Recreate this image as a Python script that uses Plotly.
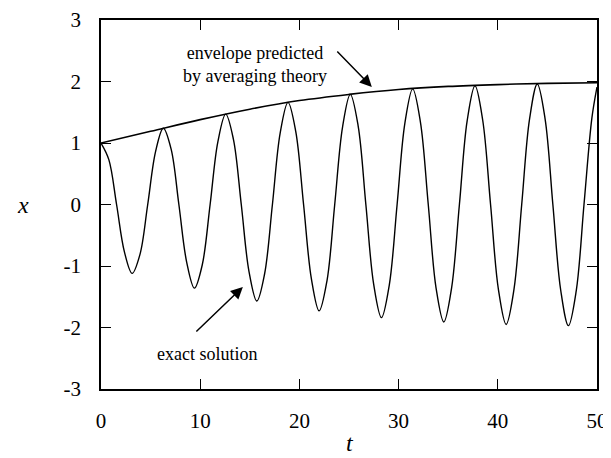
import plotly.graph_objects as go

# exact solution samples (t, x)
t_exact = [0.00, 0.79, 1.57, 2.36, 3.14, 3.93, 4.71, 5.50, 6.28, 7.07,
           7.85, 8.64, 9.42, 10.21, 11.00, 11.78, 12.57, 13.35, 14.14, 14.92,
           15.71, 16.49, 17.28, 18.06, 18.85, 19.63, 20.42, 21.21, 21.99, 22.78,
           23.56, 24.35, 25.13, 25.92, 26.70, 27.49, 28.27, 29.06, 29.85, 30.63,
           31.42, 32.20, 32.99, 33.77, 34.56, 35.34, 36.13, 36.91, 37.70, 38.48,
           39.27, 40.06, 40.84, 41.63, 42.41, 43.20, 43.98, 44.77, 45.55, 46.34,
           47.12, 47.91, 48.69, 49.48, 50.00]
x_exact = [1.00, 0.73, 0.00, -0.77, -1.12, -0.81, 0.00, 0.86, 1.24, 0.90,
           0.00, -0.94, -1.36, -0.98, 0.00, 1.02, 1.47, 1.06, 0.00, -1.09,
           -1.57, -1.13, 0.00, 1.16, 1.66, 1.19, 0.00, -1.21, -1.73, -1.24,
           0.00, 1.26, 1.79, 1.28, 0.00, -1.30, -1.84, -1.31, 0.00, 1.32,
           1.88, 1.34, 0.00, -1.35, -1.91, -1.36, 0.00, 1.36, 1.93, 1.37,
           0.00, -1.38, -1.95, -1.38, 0.00, 1.39, 1.96, 1.39, 0.00, -1.39,
           -1.97, -1.40, 0.00, 1.40, 1.91]

# envelope predicted by averaging theory
t_env = [0, 5, 10, 15, 20, 25, 30, 35, 40, 45, 50]
r_env = [1.00, 1.19, 1.38, 1.55, 1.69, 1.79, 1.87, 1.92, 1.95, 1.97, 1.98]

x_ticks = [0, 10, 20, 30, 40, 50]
y_ticks = [-3, -2, -1, 0, 1, 2, 3]
y_tick_text = ["-3", "-2", "-1", "0", "1", "2", "3"]

FONT = "Liberation Serif"
# page body has an 8px default margin; figure sized to fit the 611x458 window
W, H = 603, 450
ML, MR, MT, MB = 93, 14, 12, 69
PW, PH = W - ML - MR, H - MT - MB

fig = go.Figure()
fig.add_trace(go.Scatter(x=t_exact, y=x_exact, mode="lines",
                         line=dict(color="black", width=1.4, shape="spline", smoothing=1.0),
                         showlegend=False, hoverinfo="skip"))
fig.add_trace(go.Scatter(x=t_env, y=r_env, mode="lines",
                         line=dict(color="black", width=1.6, shape="spline"),
                         showlegend=False, hoverinfo="skip"))

axis_common = dict(showline=True, linecolor="black", linewidth=1.5, mirror="ticks",
                   ticks="inside", ticklen=10, tickwidth=1.2, tickcolor="black",
                   showgrid=False, zeroline=False, automargin=False,
                   tickfont=dict(family=FONT, size=21, color="black"))

fig.update_xaxes(range=[0, 50], tickvals=x_ticks, ticklabelstandoff=12, **axis_common)
fig.update_yaxes(range=[-3, 3], tickvals=y_ticks, ticktext=y_tick_text,
                 ticklabelstandoff=14, **axis_common)

ann_font = dict(family=FONT, size=18, color="black")
fig.add_annotation(x=15.5, y=2.28, xref="x", yref="y",
                   text="envelope predicted<br>by averaging theory",
                   showarrow=False, font=ann_font, align="center")
fig.add_annotation(x=27.3, y=1.91, xref="x", yref="y", text="",
                   showarrow=True, ax=-36, ay=-37, arrowhead=2, arrowsize=1.6,
                   arrowwidth=1.5, arrowcolor="black")
fig.add_annotation(x=10.7, y=-2.43, xref="x", yref="y", text="exact solution",
                   showarrow=False, font=ann_font)
fig.add_annotation(x=14.3, y=-1.34, xref="x", yref="y", text="",
                   showarrow=True, ax=-48, ay=46, arrowhead=2, arrowsize=1.6,
                   arrowwidth=1.5, arrowcolor="black")

# axis titles placed at pixel positions within the figure (converted to paper coords)
fig.add_annotation(x=(7 - ML) / PW, y=(H - MB - 197) / PH, xref="paper", yref="paper",
                   text="<i>x</i>", showarrow=False,
                   font=dict(family=FONT, size=24, color="black"))
fig.add_annotation(x=(342 - ML) / PW, y=(H - MB - 450) / PH, xref="paper", yref="paper",
                   yanchor="bottom", text="<i>t</i>", showarrow=False,
                   font=dict(family=FONT, size=24, color="black"))

fig.update_layout(width=W, height=H,
                  margin=dict(l=ML, r=MR, t=MT, b=MB),
                  paper_bgcolor="white", plot_bgcolor="white")

fig.write_html("out.html")
